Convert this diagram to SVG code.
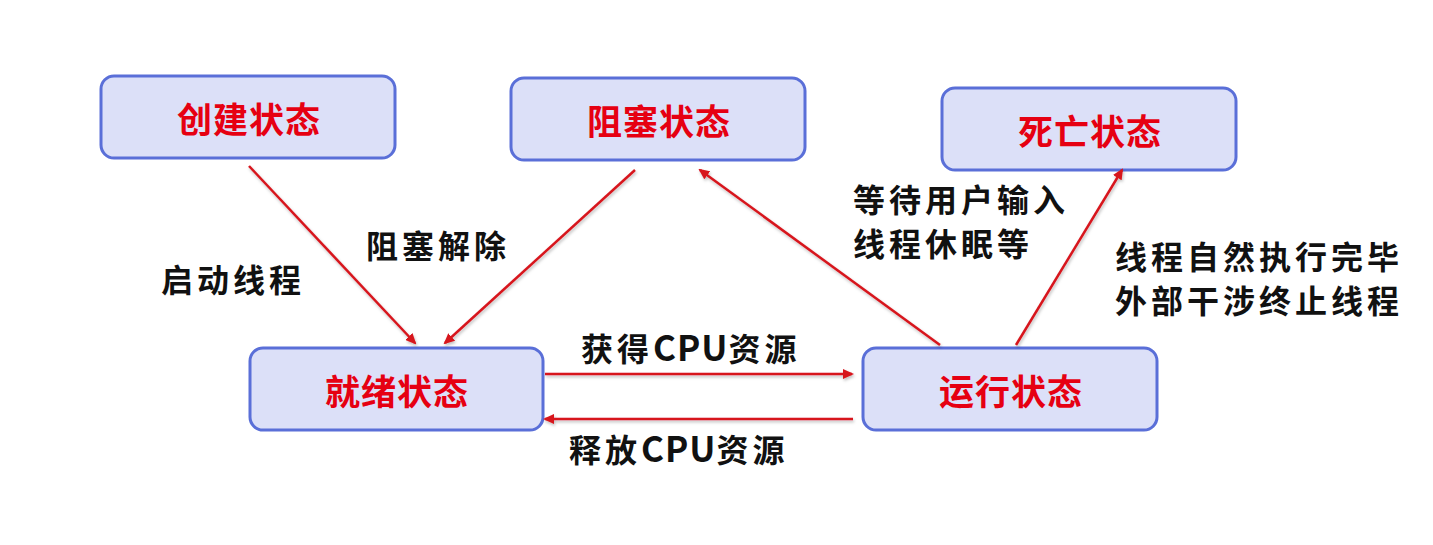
<svg xmlns="http://www.w3.org/2000/svg" width="1433" height="545" viewBox="0 0 1433 545">
<defs>
<marker id="ah" markerWidth="11" markerHeight="10" refX="9" refY="5" orient="auto" markerUnits="userSpaceOnUse">
<path d="M0,0 L11,5 L0,10 Z" fill="#d7141d"/>
</marker>
<filter id="sh" filterUnits="userSpaceOnUse" x="0" y="0" width="1433" height="545">
<feDropShadow dx="1" dy="2" stdDeviation="1.5" flood-color="#000" flood-opacity="0.25"/>
</filter>
</defs>
<style>
.box{fill:#dce0f8;stroke:#5a6fd8;stroke-width:3}
.nt{font-family:"Noto Sans CJK SC","Liberation Sans",sans-serif;font-weight:bold;font-size:35px;letter-spacing:1px;fill:#e60012;text-anchor:middle;dominant-baseline:central}
.lb{font-family:"Noto Sans CJK SC","Liberation Sans",sans-serif;font-weight:bold;font-size:32px;letter-spacing:4px;fill:#111}
.cpu{font-size:35px;letter-spacing:1px}
.ar{stroke:#d7141d;stroke-width:2.5;fill:none;marker-end:url(#ah);filter:url(#sh)}
</style>
<rect width="1433" height="545" fill="#fff"/>
<g id="n-create"><rect class="box" x="101" y="76" width="294" height="82" rx="13"/><text class="nt" x="249" y="117">创建状态</text></g>
<g id="n-block"><rect class="box" x="511" y="78" width="294" height="82" rx="13"/><text class="nt" x="659" y="119">阻塞状态</text></g>
<g id="n-dead"><rect class="box" x="942" y="88" width="294" height="82" rx="13"/><text class="nt" x="1090" y="129">死亡状态</text></g>
<g id="n-ready"><rect class="box" x="250" y="348" width="293" height="82" rx="13"/><text class="nt" x="397" y="389">就绪状态</text></g>
<g id="n-run"><rect class="box" x="863" y="348" width="294" height="82" rx="13"/><text class="nt" x="1011" y="389">运行状态</text></g>
<g id="connectors">
<line class="ar" x1="249" y1="166" x2="415" y2="343"/>
<line class="ar" x1="635" y1="170" x2="445" y2="343"/>
<line class="ar" x1="940" y1="345" x2="700" y2="170"/>
<line class="ar" x1="1016" y1="345" x2="1122" y2="170"/>
<line class="ar" x1="545" y1="374" x2="852" y2="374"/>
<line class="ar" x1="853" y1="419" x2="545" y2="419"/>
</g>
<g id="labels">
<text class="lb" x="161" y="292">启动线程</text>
<text class="lb" x="366" y="258">阻塞解除</text>
<text class="lb" x="853" y="212">等待用户输入</text>
<text class="lb" x="853" y="256">线程休眠等</text>
<text class="lb" x="1115" y="269">线程自然执行完毕</text>
<text class="lb" x="1115" y="313">外部干涉终止线程</text>
<text class="lb" x="581" y="361">获得<tspan class="cpu">CPU</tspan>资源</text>
<text class="lb" x="569" y="462">释放<tspan class="cpu">CPU</tspan>资源</text>
</g>
</svg>
